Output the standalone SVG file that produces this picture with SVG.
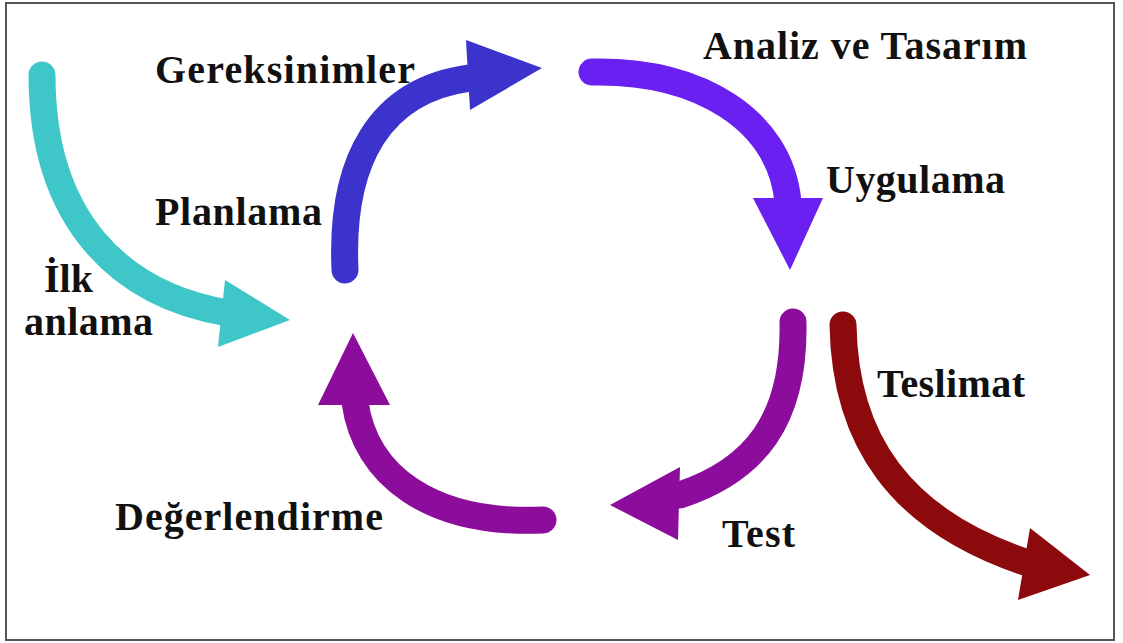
<svg xmlns="http://www.w3.org/2000/svg" width="1123" height="643" viewBox="0 0 1123 643">
<style>
.lbl{font-family:"Liberation Serif","Times New Roman",serif;font-weight:bold;font-size:40px;fill:#111}
.sh{fill:none;stroke-width:27;stroke-linecap:round}
</style>
<rect x="0" y="0" width="1123" height="643" fill="#fff"/>
<rect x="6" y="3" width="1108" height="637" fill="#fff" stroke="#555" stroke-width="2"/>
<g id="connectors">
<g id="a-ilk">
<path class="sh" stroke="#3ec6c8" d="M42,75 C42,220 120,295 228,313"/>
<polygon fill="#3ec6c8" points="225,280 290,320 218,347"/>
</g>
<g id="a-plan">
<path class="sh" stroke="#3b33cc" d="M345,270 C340,160 380,90 470,78"/>
<polygon fill="#3b33cc" points="466,40 542,68 470,110"/>
</g>
<g id="a-analiz">
<path class="sh" stroke="#6a20f0" d="M592,72 C700,70 780,120 788,202"/>
<polygon fill="#6a20f0" points="753,198 823,198 790,270"/>
</g>
<g id="a-test">
<path class="sh" stroke="#8c0c9c" d="M793,322 C795,420 755,470 680,495"/>
<polygon fill="#8c0c9c" points="680,467 678,540 610,505"/>
</g>
<g id="a-deger">
<path class="sh" stroke="#8c0c9c" d="M543,520 C430,525 365,475 355,402"/>
<polygon fill="#8c0c9c" points="318,405 353,333 390,405"/>
</g>
<g id="a-teslim">
<path class="sh" stroke="#8c0a0c" d="M843,325 C845,440 900,520 1025,562"/>
<polygon fill="#8c0a0c" points="1030,528 1090,575 1018,600"/>
</g>
</g>
<g id="n-gereksinimler"><text class="lbl" x="155" y="83" textLength="260">Gereksinimler</text></g>
<g id="n-analiz"><text class="lbl" x="703" y="59" textLength="324">Analiz ve Tasarım</text></g>
<g id="n-uygulama"><text class="lbl" x="826" y="193" textLength="179">Uygulama</text></g>
<g id="n-planlama"><text class="lbl" x="155" y="225" textLength="167">Planlama</text></g>
<g id="n-ilk"><text class="lbl" x="44" y="292">İlk</text><text class="lbl" x="24" y="335" textLength="129">anlama</text></g>
<g id="n-teslimat"><text class="lbl" x="877" y="397" textLength="148">Teslimat</text></g>
<g id="n-test"><text class="lbl" x="722" y="547" textLength="73">Test</text></g>
<g id="n-degerlendirme"><text class="lbl" x="115" y="530" textLength="268">Değerlendirme</text></g>
</svg>
